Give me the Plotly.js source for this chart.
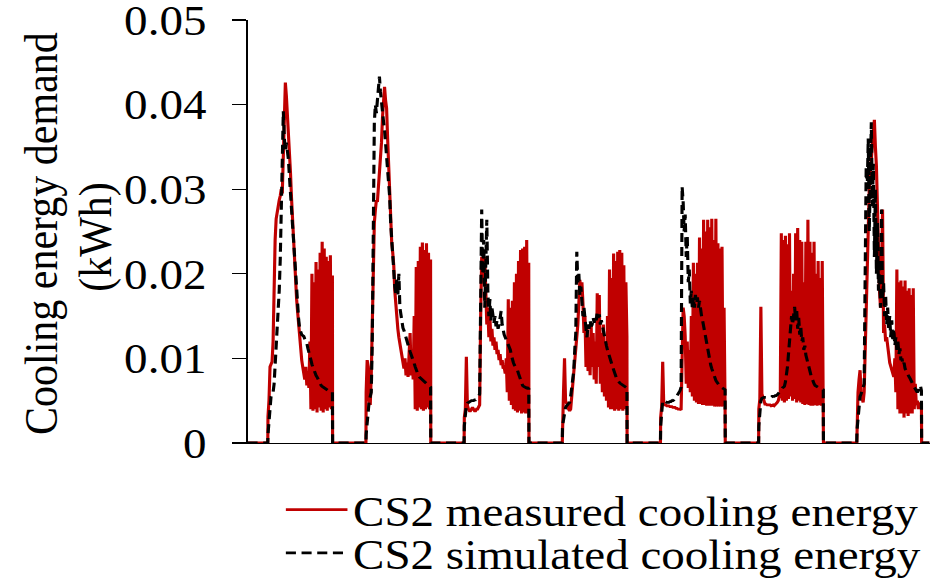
<!DOCTYPE html>
<html>
<head>
<meta charset="utf-8">
<script src="https://cdn.plot.ly/plotly-3.0.1.min.js"></script>
<style>
  html, body { margin: 0; padding: 0; background: #ffffff; overflow: hidden; }
  #chart { width: 832px; height: 580px; transform: scaleX(1.12); transform-origin: 0 0; }
</style>
</head>
<body>
<div id="chart"></div>
<script>
// Time resolution: 15-minute steps, cooling window 05:00-20:45 each day (hours from start of week)
const dayCount = 7;
const windowStartHour = 5;
const stepHours = 0.25;
const axisEndHour = 166.75;

const seriesNames = ["CS2 measured cooling energy", "CS2 simulated cooling energy"];
const yTitleLines = ["Cooling energy demand", "(kWh)"];
const yTickVals = [0, 0.01, 0.02, 0.03, 0.04, 0.05];
const yTickText = ["0", "0.01", "0.02", "0.03", "0.04", "0.05"];

// Measured cooling energy (kWh) per 15-min step, one array per day
const measuredDay1 = [0.0031,0.0050,0.0090,0.0095,0.0096,0.0120,0.0200,0.0240,0.0265,0.0275,0.0280,0.0287,0.0292,0.0300,0.0295,0.0340,0.0380,0.0426,0.0410,0.0390,0.0365,0.0345,0.0320,0.0290,0.0264,0.0240,0.0215,0.0195,0.0170,0.0155,0.0138,0.0125,0.0110,0.0098,0.0090,0.0083,0.0075,0.0090,0.0068,0.0085,0.0065,0.0120,0.0040,0.0200,0.0038,0.0190,0.0040,0.0214,0.0036,0.0205,0.0042,0.0225,0.0038,0.0238,0.0036,0.0230,0.0040,0.0220,0.0038,0.0215,0.0042,0.0222,0.0040,0.0198];
const measuredDay2 = [0.0060,0.0098,0.0090,0.0050,0.0045,0.0080,0.0160,0.0237,0.0260,0.0275,0.0287,0.0285,0.0300,0.0315,0.0335,0.0355,0.0385,0.0410,0.0421,0.0405,0.0396,0.0360,0.0330,0.0290,0.0260,0.0237,0.0225,0.0210,0.0180,0.0160,0.0146,0.0135,0.0125,0.0118,0.0110,0.0100,0.0092,0.0088,0.0100,0.0080,0.0095,0.0078,0.0105,0.0130,0.0080,0.0100,0.0075,0.0150,0.0040,0.0208,0.0038,0.0215,0.0042,0.0232,0.0040,0.0237,0.0038,0.0228,0.0040,0.0236,0.0042,0.0225,0.0040,0.0217];
const measuredDay3 = [0.0030,0.0040,0.0102,0.0045,0.0040,0.0038,0.0038,0.0040,0.0042,0.0040,0.0038,0.0038,0.0040,0.0040,0.0042,0.0045,0.0150,0.0220,0.0190,0.0200,0.0220,0.0170,0.0140,0.0160,0.0125,0.0150,0.0120,0.0135,0.0115,0.0125,0.0110,0.0120,0.0105,0.0110,0.0098,0.0105,0.0092,0.0098,0.0088,0.0090,0.0082,0.0100,0.0060,0.0170,0.0050,0.0160,0.0045,0.0168,0.0040,0.0190,0.0038,0.0200,0.0036,0.0215,0.0038,0.0228,0.0035,0.0230,0.0036,0.0232,0.0035,0.0240,0.0036,0.0213];
const measuredDay4 = [0.0020,0.0060,0.0100,0.0050,0.0047,0.0046,0.0040,0.0038,0.0040,0.0055,0.0065,0.0075,0.0090,0.0105,0.0125,0.0140,0.0165,0.0193,0.0175,0.0190,0.0165,0.0130,0.0150,0.0090,0.0140,0.0085,0.0125,0.0080,0.0140,0.0090,0.0130,0.0075,0.0120,0.0070,0.0177,0.0090,0.0175,0.0070,0.0130,0.0060,0.0140,0.0055,0.0120,0.0050,0.0150,0.0042,0.0205,0.0040,0.0195,0.0040,0.0224,0.0038,0.0215,0.0040,0.0226,0.0038,0.0228,0.0040,0.0225,0.0038,0.0210,0.0040,0.0190,0.0126];
const measuredDay5 = [0.0030,0.0043,0.0096,0.0046,0.0045,0.0045,0.0044,0.0044,0.0044,0.0043,0.0043,0.0043,0.0042,0.0042,0.0042,0.0041,0.0041,0.0040,0.0040,0.0040,0.0039,0.0140,0.0160,0.0150,0.0126,0.0070,0.0120,0.0065,0.0110,0.0060,0.0150,0.0055,0.0213,0.0050,0.0200,0.0048,0.0213,0.0046,0.0243,0.0046,0.0230,0.0045,0.0264,0.0045,0.0250,0.0044,0.0264,0.0044,0.0255,0.0044,0.0265,0.0044,0.0240,0.0043,0.0265,0.0043,0.0236,0.0043,0.0230,0.0043,0.0232,0.0043,0.0160,0.0043];
const measuredDay6 = [0.0040,0.0052,0.0161,0.0058,0.0055,0.0050,0.0046,0.0046,0.0045,0.0045,0.0045,0.0045,0.0044,0.0045,0.0045,0.0044,0.0045,0.0046,0.0048,0.0050,0.0055,0.0060,0.0248,0.0050,0.0240,0.0048,0.0245,0.0050,0.0235,0.0052,0.0248,0.0055,0.0180,0.0050,0.0200,0.0052,0.0248,0.0048,0.0254,0.0050,0.0240,0.0048,0.0238,0.0046,0.0190,0.0045,0.0238,0.0046,0.0264,0.0045,0.0238,0.0044,0.0225,0.0044,0.0238,0.0045,0.0200,0.0044,0.0215,0.0045,0.0195,0.0044,0.0215,0.0045];
const measuredDay7 = [0.0030,0.0060,0.0075,0.0086,0.0058,0.0050,0.0048,0.0060,0.0110,0.0169,0.0230,0.0288,0.0300,0.0320,0.0335,0.0350,0.0365,0.0382,0.0350,0.0327,0.0280,0.0220,0.0180,0.0160,0.0200,0.0276,0.0130,0.0140,0.0120,0.0125,0.0110,0.0105,0.0095,0.0091,0.0085,0.0080,0.0078,0.0100,0.0060,0.0205,0.0040,0.0190,0.0035,0.0192,0.0035,0.0185,0.0030,0.0192,0.0035,0.0180,0.0032,0.0183,0.0035,0.0175,0.0035,0.0183,0.0040,0.0070,0.0045,0.0050,0.0040,0.0048,0.0042,0.0045];

// Simulated cooling energy (kWh) per 15-min step, one array per day
const simulatedDay1 = [0.0010,0.0030,0.0045,0.0055,0.0058,0.0060,0.0070,0.0090,0.0106,0.0130,0.0160,0.0180,0.0217,0.0296,0.0355,0.0392,0.0360,0.0345,0.0355,0.0345,0.0335,0.0315,0.0290,0.0276,0.0258,0.0240,0.0218,0.0198,0.0177,0.0160,0.0146,0.0135,0.0130,0.0128,0.0127,0.0126,0.0123,0.0120,0.0118,0.0112,0.0106,0.0102,0.0098,0.0093,0.0089,0.0086,0.0082,0.0080,0.0078,0.0075,0.0072,0.0070,0.0068,0.0067,0.0066,0.0065,0.0065,0.0064,0.0063,0.0062,0.0061,0.0061,0.0060,0.0060];
const simulatedDay2 = [0.0010,0.0025,0.0040,0.0050,0.0055,0.0060,0.0120,0.0250,0.0378,0.0400,0.0390,0.0405,0.0420,0.0433,0.0415,0.0400,0.0392,0.0380,0.0370,0.0355,0.0346,0.0325,0.0305,0.0291,0.0260,0.0237,0.0215,0.0200,0.0185,0.0177,0.0195,0.0175,0.0200,0.0160,0.0150,0.0142,0.0136,0.0133,0.0128,0.0124,0.0120,0.0116,0.0112,0.0108,0.0105,0.0102,0.0098,0.0094,0.0090,0.0086,0.0082,0.0080,0.0078,0.0077,0.0076,0.0075,0.0074,0.0073,0.0072,0.0070,0.0069,0.0068,0.0067,0.0066];
const simulatedDay3 = [0.0020,0.0035,0.0045,0.0047,0.0048,0.0049,0.0050,0.0050,0.0050,0.0050,0.0051,0.0051,0.0052,0.0053,0.0055,0.0058,0.0150,0.0276,0.0200,0.0240,0.0160,0.0230,0.0264,0.0180,0.0150,0.0170,0.0145,0.0160,0.0148,0.0142,0.0150,0.0138,0.0145,0.0135,0.0140,0.0150,0.0156,0.0140,0.0132,0.0128,0.0125,0.0122,0.0118,0.0115,0.0112,0.0110,0.0104,0.0098,0.0095,0.0092,0.0090,0.0088,0.0086,0.0082,0.0078,0.0073,0.0070,0.0068,0.0067,0.0066,0.0066,0.0065,0.0065,0.0064];
const simulatedDay4 = [0.0020,0.0030,0.0040,0.0042,0.0044,0.0045,0.0046,0.0048,0.0055,0.0065,0.0075,0.0085,0.0110,0.0130,0.0226,0.0190,0.0200,0.0175,0.0185,0.0165,0.0150,0.0160,0.0140,0.0135,0.0125,0.0140,0.0135,0.0145,0.0138,0.0140,0.0148,0.0142,0.0150,0.0145,0.0155,0.0148,0.0152,0.0140,0.0145,0.0138,0.0132,0.0128,0.0122,0.0115,0.0110,0.0105,0.0100,0.0096,0.0094,0.0090,0.0086,0.0082,0.0078,0.0076,0.0074,0.0072,0.0071,0.0070,0.0069,0.0068,0.0067,0.0066,0.0065,0.0065];
const simulatedDay5 = [0.0020,0.0040,0.0050,0.0050,0.0049,0.0048,0.0048,0.0048,0.0048,0.0049,0.0049,0.0050,0.0050,0.0051,0.0052,0.0054,0.0056,0.0058,0.0060,0.0062,0.0066,0.0303,0.0285,0.0250,0.0270,0.0220,0.0245,0.0190,0.0205,0.0165,0.0180,0.0158,0.0172,0.0160,0.0175,0.0165,0.0172,0.0160,0.0168,0.0155,0.0150,0.0145,0.0138,0.0130,0.0122,0.0115,0.0108,0.0102,0.0097,0.0092,0.0088,0.0084,0.0080,0.0077,0.0074,0.0072,0.0070,0.0068,0.0067,0.0066,0.0065,0.0064,0.0063,0.0063];
const simulatedDay6 = [0.0020,0.0040,0.0050,0.0053,0.0054,0.0054,0.0054,0.0054,0.0054,0.0054,0.0054,0.0054,0.0054,0.0055,0.0055,0.0055,0.0056,0.0056,0.0057,0.0058,0.0060,0.0062,0.0064,0.0065,0.0066,0.0067,0.0072,0.0080,0.0090,0.0105,0.0122,0.0137,0.0150,0.0140,0.0155,0.0161,0.0145,0.0158,0.0135,0.0148,0.0128,0.0138,0.0120,0.0125,0.0110,0.0115,0.0104,0.0100,0.0095,0.0090,0.0085,0.0080,0.0076,0.0072,0.0070,0.0068,0.0067,0.0066,0.0066,0.0065,0.0065,0.0064,0.0064,0.0063];
const simulatedDay7 = [0.0015,0.0030,0.0045,0.0055,0.0058,0.0062,0.0065,0.0070,0.0200,0.0327,0.0300,0.0360,0.0250,0.0340,0.0379,0.0280,0.0330,0.0220,0.0300,0.0200,0.0260,0.0180,0.0210,0.0160,0.0276,0.0170,0.0190,0.0150,0.0175,0.0140,0.0160,0.0135,0.0150,0.0125,0.0145,0.0120,0.0135,0.0115,0.0125,0.0110,0.0120,0.0105,0.0112,0.0098,0.0100,0.0092,0.0095,0.0088,0.0085,0.0082,0.0080,0.0078,0.0076,0.0073,0.0070,0.0068,0.0066,0.0064,0.0062,0.0060,0.0062,0.0066,0.0068,0.0062];

const measuredDays = [measuredDay1, measuredDay2, measuredDay3, measuredDay4, measuredDay5, measuredDay6, measuredDay7];
const simulatedDays = [simulatedDay1, simulatedDay2, simulatedDay3, simulatedDay4, simulatedDay5, simulatedDay6, simulatedDay7];

// Build a continuous week series: zero outside the daily cooling window
function buildSeries(days) {
  const x = [0], y = [0];
  for (let d = 0; d < dayCount; d++) {
    const vals = days[d];
    const base = 24 * d + windowStartHour;
    x.push(base - 0.05); y.push(0);
    for (let k = 0; k < vals.length; k++) { x.push(base + k * stepHours); y.push(vals[k]); }
    const last = base + (vals.length - 1) * stepHours;
    x.push(last + 0.05); y.push(0);
  }
  x.push(axisEndHour); y.push(0);
  return { x, y };
}

const meas = buildSeries(measuredDays);
const sim = buildSeries(simulatedDays);

const serif = "Liberation Serif, Times New Roman, serif";
const textFont = { family: serif, size: 42, color: "#000000" };

const traces = [
  { type: "scatter", mode: "lines", name: seriesNames[0], x: meas.x, y: meas.y,
    line: { color: "#c00000", width: 2.8 }, legend: "legend" },
  { type: "scatter", mode: "lines", name: seriesNames[1], x: sim.x, y: sim.y,
    line: { color: "#000000", width: 2.8, dash: "9px,5px" }, legend: "legend2" }
];

const layout = {
  width: 832, height: 580,
  margin: { l: 221, r: 2, t: 20, b: 137, autoexpand: false },
  paper_bgcolor: "#ffffff", plot_bgcolor: "#ffffff",
  font: textFont,
  xaxis: { range: [0, axisEndHour], showline: true, linecolor: "#000000", linewidth: 1.3,
           showgrid: false, zeroline: false, showticklabels: false, ticks: "" },
  yaxis: { range: [0, 0.05], tickvals: yTickVals, ticktext: yTickText,
           showline: true, linecolor: "#000000", linewidth: 1.3,
           ticks: "outside", ticklen: 13, tickwidth: 1.3, tickcolor: "#000000",
           ticklabelstandoff: 14, ticklabeloverflow: "allow",
           showgrid: false, zeroline: false, tickfont: textFont },
  annotations: [
    { text: yTitleLines[0], xref: "paper", yref: "paper", x: -0.303, y: 0.495,
      xanchor: "center", yanchor: "middle", textangle: -90, showarrow: false, font: textFont },
    { text: yTitleLines[1], xref: "paper", yref: "paper", x: -0.222, y: 0.487,
      xanchor: "center", yanchor: "middle", textangle: -90, showarrow: false, font: textFont }
  ],
  showlegend: true,
  legend: { x: 0.048, y: -0.158, xanchor: "left", yanchor: "middle", bgcolor: "rgba(0,0,0,0)",
            borderwidth: 0, itemwidth: 55, font: textFont },
  legend2: { x: 0.048, y: -0.26, xanchor: "left", yanchor: "middle", bgcolor: "rgba(0,0,0,0)",
             borderwidth: 0, itemwidth: 55, font: textFont }
};

Plotly.newPlot("chart", traces, layout, { staticPlot: true, displayModeBar: false });
</script>
</body>
</html>
